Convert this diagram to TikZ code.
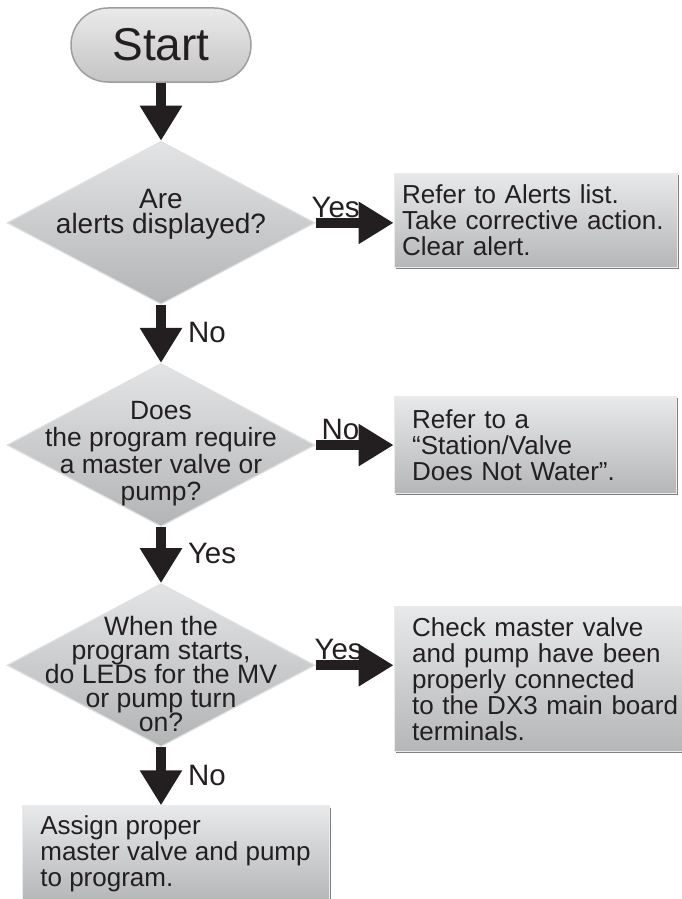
\documentclass[tikz,border=0pt]{standalone}
\usepackage{fontspec}
\setmainfont{Liberation Sans}
\usepackage{tikz}
\usetikzlibrary{arrows.meta,positioning,calc,shapes.geometric,shadows}
\definecolor{ink}{HTML}{231F20}
\definecolor{pilltop}{HTML}{EAEAEA}
\definecolor{pillbot}{HTML}{C4C4C5}
\definecolor{rim}{HTML}{9D9E9F}
\definecolor{dtop}{HTML}{E3E4E5}
\definecolor{dbot}{HTML}{B3B4B6}
\definecolor{boxtop}{HTML}{E8E9EA}
\definecolor{boxbot}{HTML}{B5B6B8}
\lineskiplimit=-30pt

\begin{document}
\begin{tikzpicture}[x=1pt,y=-1pt,>={Triangle[length=35pt,width=40pt]},
  flow/.style={->,line width=10pt,draw=ink},
  startbox/.style={rectangle,rounded corners=37pt,minimum width=180pt,minimum height=74pt,
    top color=pilltop,bottom color=pillbot,draw=rim,line width=1.5pt,text=ink,
    font=\fontsize{46}{46}\selectfont},
  decision/.style={diamond,minimum width=308pt,minimum height=163pt,inner sep=0pt,
    top color=dtop,bottom color=dbot,draw=black!12,line width=1.2pt},
  dtext/.style={text=ink,align=center,inner sep=0pt},
  action/.style={rectangle,text=ink,align=left,inner ysep=0pt,
    top color=boxtop,bottom color=boxbot,draw=black!8,line width=1pt,
    drop shadow={shadow xshift=1.8pt,shadow yshift=-1.8pt,fill=black!50,opacity=1},
    font=\fontsize{26}{26}\selectfont},
  lbl/.style={text=ink,inner sep=0pt,font=\fontsize{29.5}{30}\selectfont}]
  \useasboundingbox (0,0) rectangle (681,899);

  % question column
  \node[startbox] (start) at (161,45) {Start};
  \node[decision,below=58pt of start] (d1) {};
  \node[dtext,font=\fontsize{28}{25}\selectfont] (q1) at ($(d1)+(0,-9)$) {Are\\alerts displayed?};
  \node[decision,below=58pt of d1] (d2) {};
  \node[dtext,font=\fontsize{26.4}{27}\selectfont] (q2) at ($(d2)+(0,8.7)$) {Does\\the program require\\a master valve or\\pump?};
  \node[decision,below=56pt of d2] (d3) {};
  \node[dtext,font=\fontsize{26.6}{24}\selectfont] (q3) at ($(d3)+(0,9)$) {When the\\program starts,\\do LEDs for the MV\\or pump turn\\on?};

  % actions
  \node[action,right=78pt of d1,yshift=2.5pt,inner xsep=8pt,text width=267pt,minimum height=94pt] (b1) {Refer to Alerts list.\\Take corrective action.\\Clear alert.};
  \node[action,right=78pt of d2,inner xsep=18pt,text width=246pt,minimum height=97pt] (b2) {Refer to a\\“Station/Valve\\Does Not Water”.};
  \node[action,right=78pt of d3,yshift=-13.5pt,inner xsep=18pt,text width=272pt,minimum height=145pt] (b3) {Check master valve\\and pump have been\\properly connected\\to the DX3 main board\\terminals.};
  \node[action,below=58pt of d3,xshift=14.5pt,inner xsep=10pt,minimum width=307pt,minimum height=96pt] (b4) {Assign proper\\master valve and pump\\to program.};

  \draw[flow] (start) -- (d1);
  \draw[flow] (d1) -- (d2) node[lbl,at end,anchor=base west,xshift=22pt,yshift=20pt] {No};
  \draw[flow] (d2) -- (d3) node[lbl,at end,anchor=base west,xshift=22pt,yshift=20pt] {Yes};
  \draw[flow] (d3.south) -- (d3.south |- b4.north) node[lbl,at end,anchor=base west,xshift=22pt,yshift=20pt] {No};
  \draw[flow] (d1.east) -- (d1.east -| b1.west) node[lbl,at start,anchor=base west,xshift=-9pt,yshift=5pt] {Yes};
  \draw[flow] (d2.east) -- (d2.east -| b2.west) node[lbl,at start,anchor=base west,xshift=1pt,yshift=6pt] {No};
  \draw[flow] (d3.east) -- (d3.east -| b3.west) node[lbl,at start,anchor=base west,xshift=-6pt,yshift=6pt] {Yes};
\end{tikzpicture}
\end{document}
